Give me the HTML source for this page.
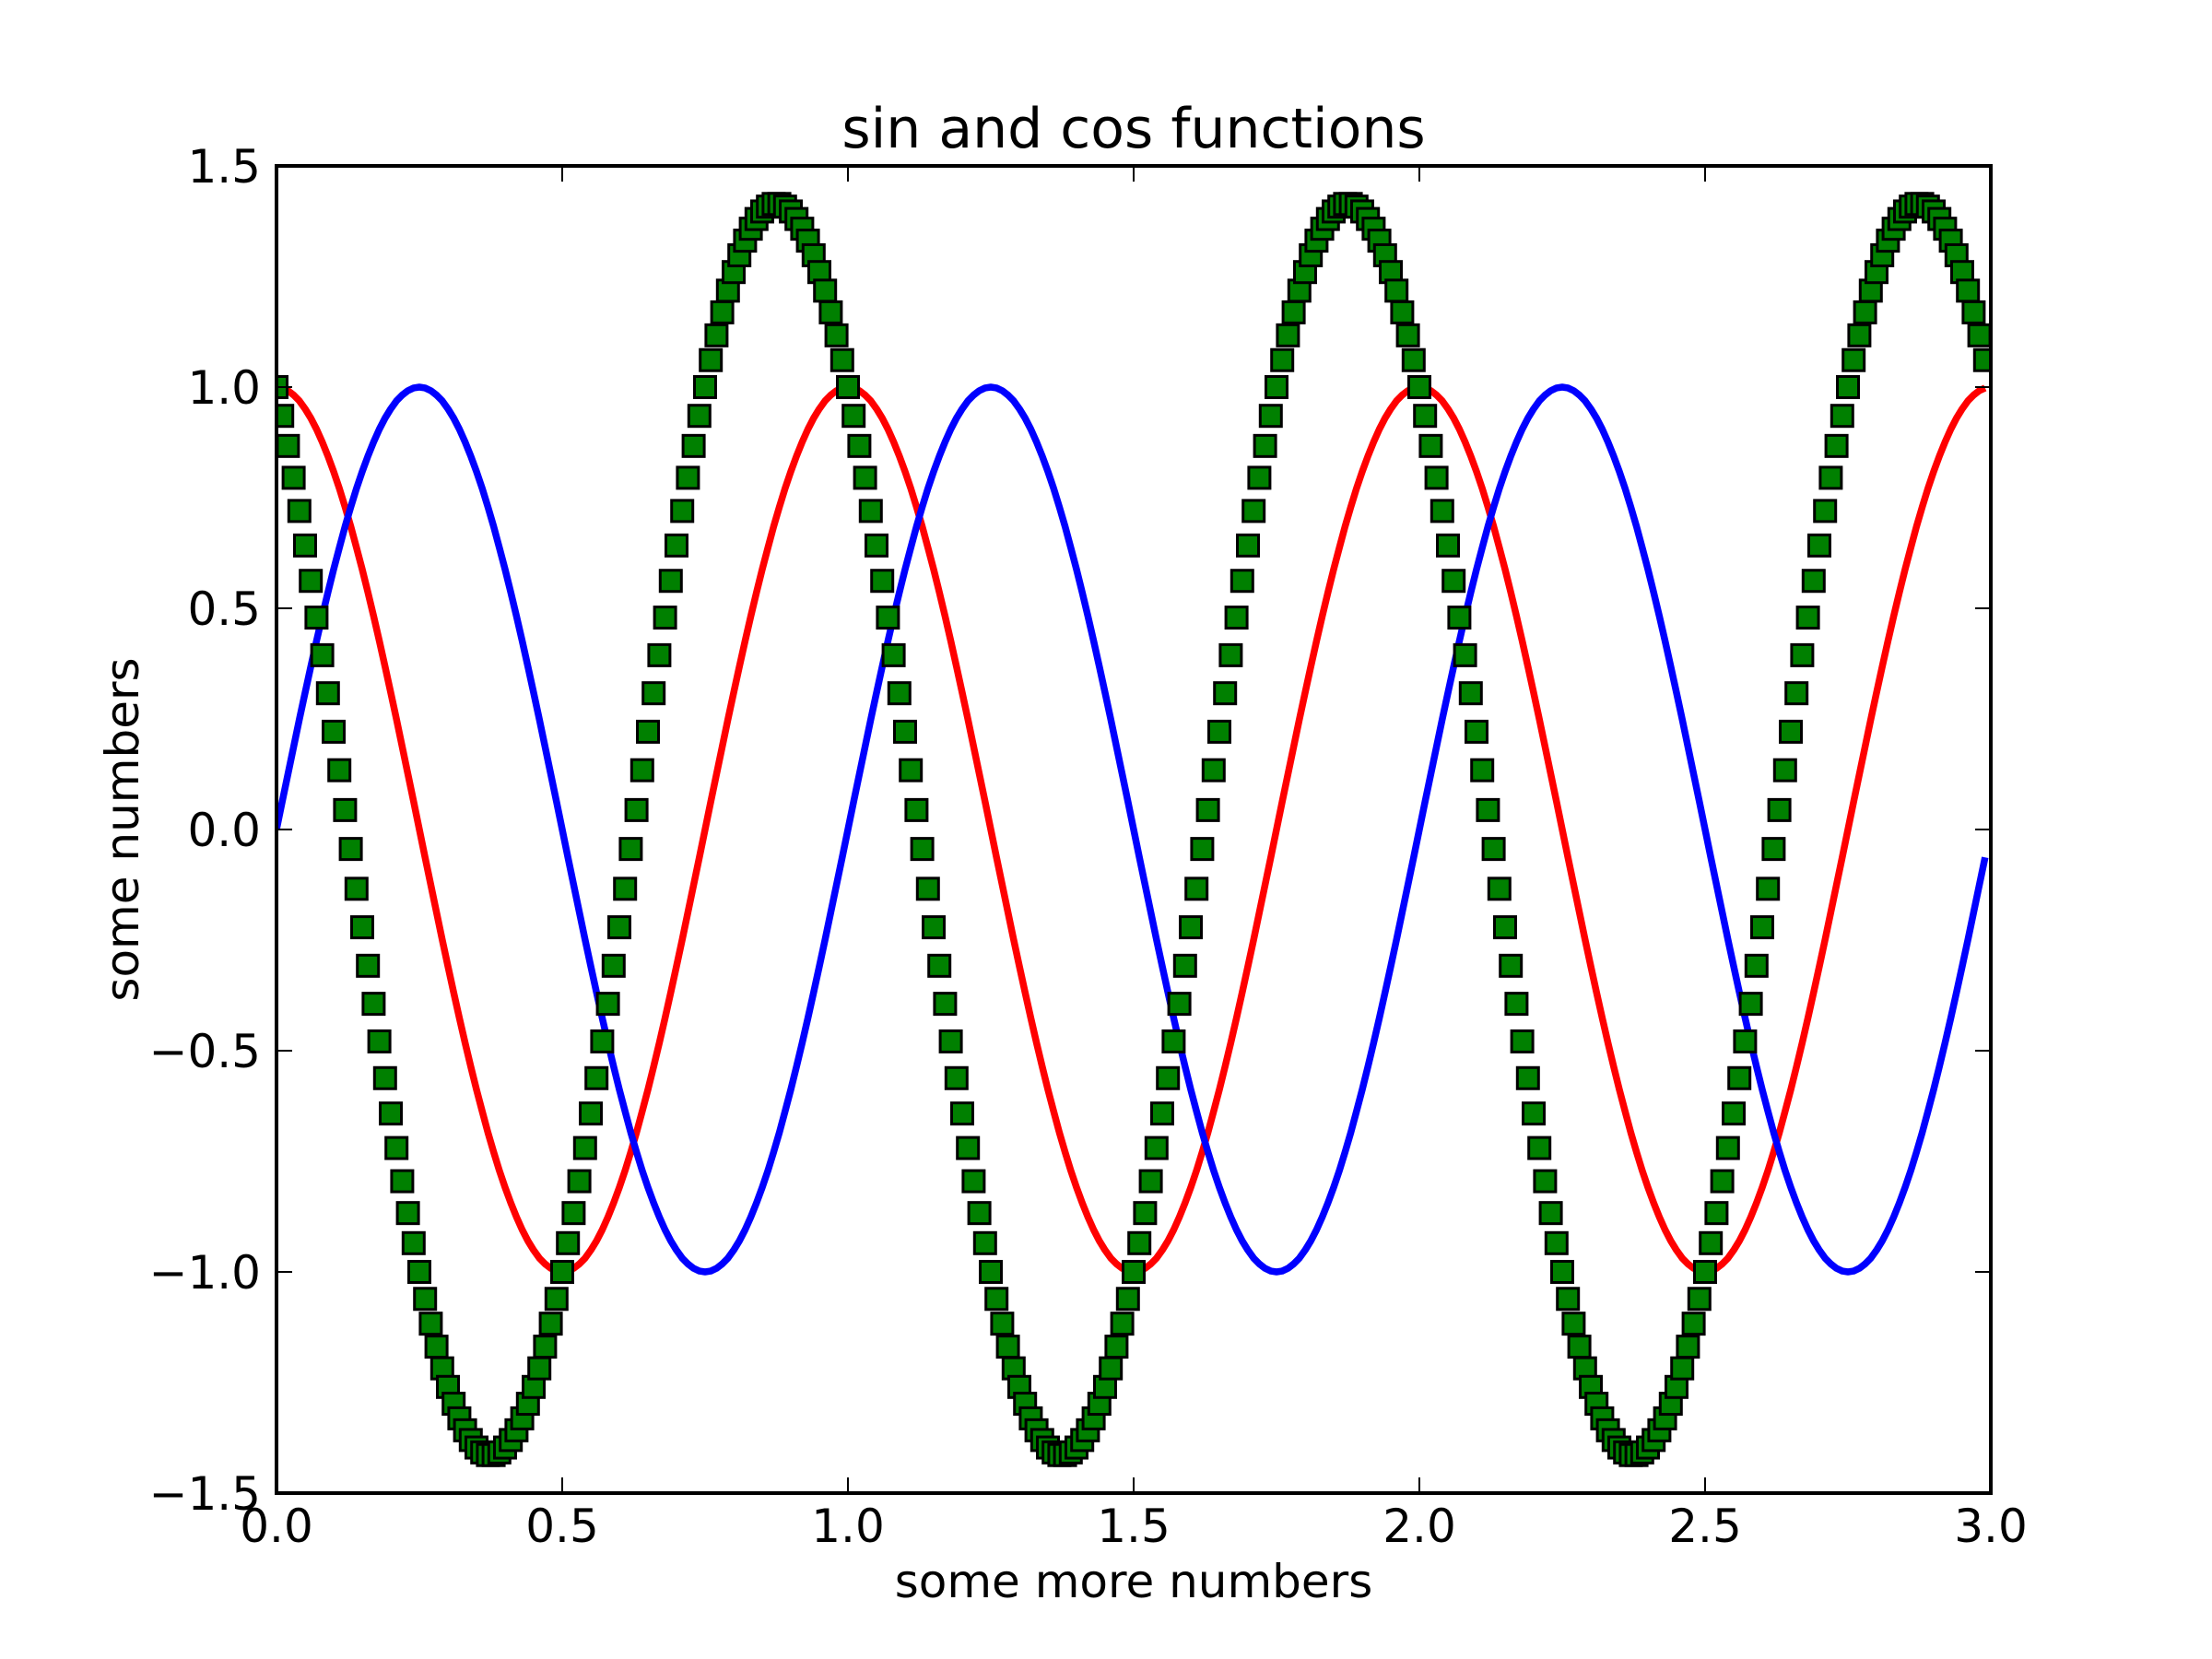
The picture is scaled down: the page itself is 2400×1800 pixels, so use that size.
<!DOCTYPE html>
<html><head><meta charset="utf-8"><style>
html,body{margin:0;padding:0;background:#fff;}
svg{display:block;}
text{font-family:"DejaVu Sans","Liberation Sans",sans-serif;fill:#000;}
</style></head><body>
<svg id="chart" width="2400" height="1800" viewBox="0 0 2400 1800" xmlns="http://www.w3.org/2000/svg">
<rect x="0" y="0" width="2400" height="1800" fill="#fff"/>
<defs><clipPath id="plotclip"><rect x="300" y="180" width="1860" height="1440"/></clipPath></defs>
<g id="series" clip-path="url(#plotclip)"></g>
<g id="axes"></g>
<text x="1230" y="160" font-size="60" text-anchor="middle">sin and cos functions</text>
<text x="1230" y="1733" font-size="50" text-anchor="middle">some more numbers</text>
<text x="150" y="900" font-size="50" text-anchor="middle" transform="rotate(-90 150 900)">some numbers</text>
</svg>
<script>
const xTicks = [0.0, 0.5, 1.0, 1.5, 2.0, 2.5, 3.0];
const xTickLabels = ["0.0","0.5","1.0","1.5","2.0","2.5","3.0"];
const yTicks = [-1.5, -1.0, -0.5, 0.0, 0.5, 1.0, 1.5];
const yTickLabels = ["\u22121.5","\u22121.0","\u22120.5","0.0","0.5","1.0","1.5"];
const xStep = 0.01;
const sinValues = [
0,.063,.125,.187,.249,.309,.368,.426,.482,.536,.588,.637,.685,.729,.771,.809,.844,.876,.905,.930,.951,.969,.982,.992,.998,1,.998,.992,.982,.969,.951,.930,.905,.876,.844,.809,.771,.729,.685,.637,.588,.536,.482,.426,.368,.309,.249,.187,.125,.063,0,-.063,-.125,-.187,-.249,-.309,-.368,-.426,-.482,-.536,-.588,-.637,-.685,-.729,-.771,-.809,-.844,-.876,-.905,-.930,-.951,-.969,-.982,-.992,-.998,-1,-.998,-.992,-.982,-.969,-.951,-.930,-.905,-.876,-.844,-.809,-.771,-.729,-.685,-.637,-.588,-.536,-.482,-.426,-.368,-.309,-.249,-.187,-.125,-.063,
0,.063,.125,.187,.249,.309,.368,.426,.482,.536,.588,.637,.685,.729,.771,.809,.844,.876,.905,.930,.951,.969,.982,.992,.998,1,.998,.992,.982,.969,.951,.930,.905,.876,.844,.809,.771,.729,.685,.637,.588,.536,.482,.426,.368,.309,.249,.187,.125,.063,0,-.063,-.125,-.187,-.249,-.309,-.368,-.426,-.482,-.536,-.588,-.637,-.685,-.729,-.771,-.809,-.844,-.876,-.905,-.930,-.951,-.969,-.982,-.992,-.998,-1,-.998,-.992,-.982,-.969,-.951,-.930,-.905,-.876,-.844,-.809,-.771,-.729,-.685,-.637,-.588,-.536,-.482,-.426,-.368,-.309,-.249,-.187,-.125,-.063,
0,.063,.125,.187,.249,.309,.368,.426,.482,.536,.588,.637,.685,.729,.771,.809,.844,.876,.905,.930,.951,.969,.982,.992,.998,1,.998,.992,.982,.969,.951,.930,.905,.876,.844,.809,.771,.729,.685,.637,.588,.536,.482,.426,.368,.309,.249,.187,.125,.063,0,-.063,-.125,-.187,-.249,-.309,-.368,-.426,-.482,-.536,-.588,-.637,-.685,-.729,-.771,-.809,-.844,-.876,-.905,-.930,-.951,-.969,-.982,-.992,-.998,-1,-.998,-.992,-.982,-.969,-.951,-.930,-.905,-.876,-.844,-.809,-.771,-.729,-.685,-.637,-.588,-.536,-.482,-.426,-.368,-.309,-.249,-.187,-.125,-.063];
const cosValues = [
1,.998,.992,.982,.969,.951,.930,.905,.876,.844,.809,.771,.729,.685,.637,.588,.536,.482,.426,.368,.309,.249,.187,.125,.063,0,-.063,-.125,-.187,-.249,-.309,-.368,-.426,-.482,-.536,-.588,-.637,-.685,-.729,-.771,-.809,-.844,-.876,-.905,-.930,-.951,-.969,-.982,-.992,-.998,-1,-.998,-.992,-.982,-.969,-.951,-.930,-.905,-.876,-.844,-.809,-.771,-.729,-.685,-.637,-.588,-.536,-.482,-.426,-.368,-.309,-.249,-.187,-.125,-.063,0,.063,.125,.187,.249,.309,.368,.426,.482,.536,.588,.637,.685,.729,.771,.809,.844,.876,.905,.930,.951,.969,.982,.992,.998,
1,.998,.992,.982,.969,.951,.930,.905,.876,.844,.809,.771,.729,.685,.637,.588,.536,.482,.426,.368,.309,.249,.187,.125,.063,0,-.063,-.125,-.187,-.249,-.309,-.368,-.426,-.482,-.536,-.588,-.637,-.685,-.729,-.771,-.809,-.844,-.876,-.905,-.930,-.951,-.969,-.982,-.992,-.998,-1,-.998,-.992,-.982,-.969,-.951,-.930,-.905,-.876,-.844,-.809,-.771,-.729,-.685,-.637,-.588,-.536,-.482,-.426,-.368,-.309,-.249,-.187,-.125,-.063,0,.063,.125,.187,.249,.309,.368,.426,.482,.536,.588,.637,.685,.729,.771,.809,.844,.876,.905,.930,.951,.969,.982,.992,.998,
1,.998,.992,.982,.969,.951,.930,.905,.876,.844,.809,.771,.729,.685,.637,.588,.536,.482,.426,.368,.309,.249,.187,.125,.063,0,-.063,-.125,-.187,-.249,-.309,-.368,-.426,-.482,-.536,-.588,-.637,-.685,-.729,-.771,-.809,-.844,-.876,-.905,-.930,-.951,-.969,-.982,-.992,-.998,-1,-.998,-.992,-.982,-.969,-.951,-.930,-.905,-.876,-.844,-.809,-.771,-.729,-.685,-.637,-.588,-.536,-.482,-.426,-.368,-.309,-.249,-.187,-.125,-.063,0,.063,.125,.187,.249,.309,.368,.426,.482,.536,.588,.637,.685,.729,.771,.809,.844,.876,.905,.930,.951,.969,.982,.992,.998];
const diffValues = [
1,.935,.867,.795,.720,.642,.562,.479,.394,.308,.221,.134,.044,-.044,-.134,-.221,-.308,-.394,-.479,-.562,-.642,-.720,-.795,-.867,-.935,-1,-1.061,-1.117,-1.169,-1.218,-1.260,-1.298,-1.331,-1.358,-1.380,-1.397,-1.408,-1.414,-1.414,-1.408,-1.397,-1.380,-1.358,-1.331,-1.298,-1.260,-1.218,-1.169,-1.117,-1.061,-1,-.935,-.867,-.795,-.720,-.642,-.562,-.479,-.394,-.308,-.221,-.134,-.044,.044,.134,.221,.308,.394,.479,.562,.642,.720,.795,.867,.935,1,1.061,1.117,1.169,1.218,1.260,1.298,1.331,1.358,1.380,1.397,1.408,1.414,1.414,1.408,1.397,1.380,1.358,1.331,1.298,1.260,1.218,1.169,1.117,1.061,
1,.935,.867,.795,.720,.642,.562,.479,.394,.308,.221,.134,.044,-.044,-.134,-.221,-.308,-.394,-.479,-.562,-.642,-.720,-.795,-.867,-.935,-1,-1.061,-1.117,-1.169,-1.218,-1.260,-1.298,-1.331,-1.358,-1.380,-1.397,-1.408,-1.414,-1.414,-1.408,-1.397,-1.380,-1.358,-1.331,-1.298,-1.260,-1.218,-1.169,-1.117,-1.061,-1,-.935,-.867,-.795,-.720,-.642,-.562,-.479,-.394,-.308,-.221,-.134,-.044,.044,.134,.221,.308,.394,.479,.562,.642,.720,.795,.867,.935,1,1.061,1.117,1.169,1.218,1.260,1.298,1.331,1.358,1.380,1.397,1.408,1.414,1.414,1.408,1.397,1.380,1.358,1.331,1.298,1.260,1.218,1.169,1.117,1.061,
1,.935,.867,.795,.720,.642,.562,.479,.394,.308,.221,.134,.044,-.044,-.134,-.221,-.308,-.394,-.479,-.562,-.642,-.720,-.795,-.867,-.935,-1,-1.061,-1.117,-1.169,-1.218,-1.260,-1.298,-1.331,-1.358,-1.380,-1.397,-1.408,-1.414,-1.414,-1.408,-1.397,-1.380,-1.358,-1.331,-1.298,-1.260,-1.218,-1.169,-1.117,-1.061,-1,-.935,-.867,-.795,-.720,-.642,-.562,-.479,-.394,-.308,-.221,-.134,-.044,.044,.134,.221,.308,.394,.479,.562,.642,.720,.795,.867,.935,1,1.061,1.117,1.169,1.218,1.260,1.298,1.331,1.358,1.380,1.397,1.408,1.414,1.414,1.408,1.397,1.380,1.358,1.331,1.298,1.260,1.218,1.169,1.117,1.061];

const NS = "http://www.w3.org/2000/svg";
const L = 300, R = 2160, T = 180, B = 1620;
const xMin = 0, xMax = 3, yMin = -1.5, yMax = 1.5;
function xScale(v){ return L + (v - xMin) / (xMax - xMin) * (R - L); }
function yScale(v){ return B - (v - yMin) / (yMax - yMin) * (B - T); }
function xAt(i){ return i * xStep; }

const series = document.getElementById('series');
const axes = document.getElementById('axes');

function linePath(vals){
  let d = '';
  for (let i = 0; i < vals.length; i++) {
    d += (i ? 'L' : 'M') + xScale(xAt(i)).toFixed(2) + ' ' + yScale(vals[i]).toFixed(2);
  }
  return d;
}

const red = document.createElementNS(NS, 'path');
red.setAttribute('d', linePath(cosValues));
red.setAttribute('fill', 'none');
red.setAttribute('stroke', '#ff0000');
red.setAttribute('stroke-width', '7.5');
red.setAttribute('stroke-linejoin', 'round');


series.appendChild(red);

const blue = document.createElementNS(NS, 'path');
blue.setAttribute('d', linePath(sinValues));
blue.setAttribute('fill', 'none');
blue.setAttribute('stroke', '#0000ff');
blue.setAttribute('stroke-width', '7.5');
blue.setAttribute('stroke-linejoin', 'round');


series.appendChild(blue);

const S = 23;
for (let i = 0; i < diffValues.length; i++) {
  const r = document.createElementNS(NS, 'rect');
  r.setAttribute('x', (xScale(xAt(i)) - S/2).toFixed(2));
  r.setAttribute('y', (yScale(diffValues[i]) - S/2).toFixed(2));
  r.setAttribute('width', S);
  r.setAttribute('height', S);
  r.setAttribute('fill', '#008000');
  r.setAttribute('stroke', '#000');
  r.setAttribute('stroke-width', '3');
  
  
  series.appendChild(r);
}

xTicks.forEach((v, i) => {
  const x = xScale(v);
  const t1 = document.createElementNS(NS, 'line');
  t1.setAttribute('x1', x); t1.setAttribute('x2', x);
  t1.setAttribute('y1', B); t1.setAttribute('y2', B - 17);
  t1.setAttribute('stroke', '#000'); t1.setAttribute('stroke-width', '2');
  
  
  axes.appendChild(t1);
  const t2 = document.createElementNS(NS, 'line');
  t2.setAttribute('x1', x); t2.setAttribute('x2', x);
  t2.setAttribute('y1', T); t2.setAttribute('y2', T + 17);
  t2.setAttribute('stroke', '#000'); t2.setAttribute('stroke-width', '2');
  
  
  axes.appendChild(t2);
  const tx = document.createElementNS(NS, 'text');
  tx.setAttribute('x', x); tx.setAttribute('y', 1673);
  tx.setAttribute('font-size', '50'); tx.setAttribute('text-anchor', 'middle');
  tx.textContent = xTickLabels[i];
  
  
  axes.appendChild(tx);
});
yTicks.forEach((v, i) => {
  const y = yScale(v);
  const t1 = document.createElementNS(NS, 'line');
  t1.setAttribute('x1', L); t1.setAttribute('x2', L + 17);
  t1.setAttribute('y1', y); t1.setAttribute('y2', y);
  t1.setAttribute('stroke', '#000'); t1.setAttribute('stroke-width', '2');
  
  
  axes.appendChild(t1);
  const t2 = document.createElementNS(NS, 'line');
  t2.setAttribute('x1', R); t2.setAttribute('x2', R - 17);
  t2.setAttribute('y1', y); t2.setAttribute('y2', y);
  t2.setAttribute('stroke', '#000'); t2.setAttribute('stroke-width', '2');
  
  
  axes.appendChild(t2);
  const tx = document.createElementNS(NS, 'text');
  tx.setAttribute('x', 283); tx.setAttribute('y', y + 18);
  tx.setAttribute('font-size', '50'); tx.setAttribute('text-anchor', 'end');
  tx.textContent = yTickLabels[i];
  
  
  axes.appendChild(tx);
});
const frame = document.createElementNS(NS, 'rect');
frame.setAttribute('x', L); frame.setAttribute('y', T);
frame.setAttribute('width', R - L); frame.setAttribute('height', B - T);
frame.setAttribute('fill', 'none'); frame.setAttribute('stroke', '#000');
frame.setAttribute('stroke-width', '4');


axes.appendChild(frame);
</script>
</body></html>
